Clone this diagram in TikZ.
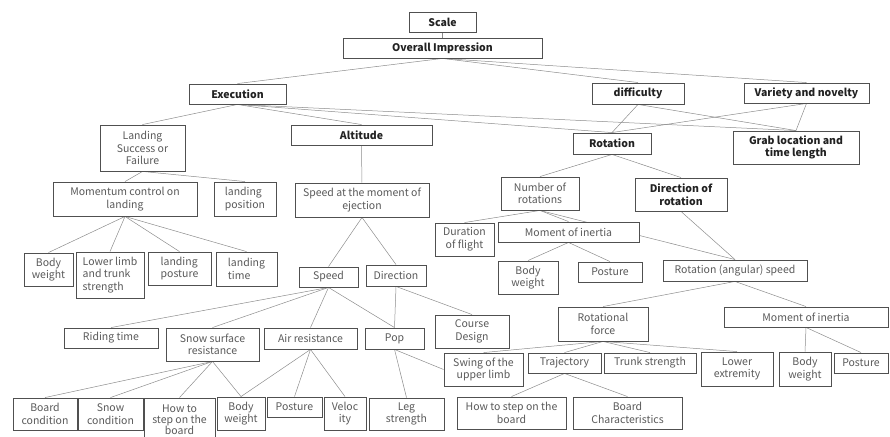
\documentclass[tikz,border=0pt]{standalone}
\usepackage{fontspec}
\setmainfont{Noto Sans CJK JP}
\usetikzlibrary{backgrounds}
\definecolor{boxline}{HTML}{505050}
\definecolor{txtgray}{HTML}{5A5A5A}
\definecolor{txtdark}{HTML}{222222}
\definecolor{edgegray}{HTML}{8C8C8C}

\begin{document}
\begin{tikzpicture}[x=1pt, y=1pt,
        box/.style={draw=boxline, line width=0.9pt, fill=white, inner sep=0pt, align=center, text=txtgray, font=\fontsize{10.5}{12.6}\selectfont},
        keybox/.style={box, text=txtdark, font=\fontsize{10.5}{12.6}\selectfont\bfseries},
        leftbox/.style={box, align=left},
        link/.style={draw=edgegray, line width=0.5pt}]
        \useasboundingbox (0,0) rectangle (890,-436);
        % top levels
        \node [keybox, minimum width=67, minimum height=20] (scale) at (442.5,-22) {Scale};
        \node [keybox, minimum width=199, minimum height=20] (overall) at (442.5,-48) {Overall Impression};
        \node [keybox, minimum width=97, minimum height=20] (execution) at (237.5,-94) {Execution};
        \node [keybox, minimum width=92, minimum height=21] (difficulty) at (638,-93.5) {difficulty};
        \node [keybox, minimum width=125, minimum height=20] (variety) at (806.5,-93) {Variety and novelty};
        \node [box, minimum width=85, minimum height=46] (landing) at (142.5,-148) {Landing\\Success or\\Failure};
        \node [keybox, minimum width=141, minimum height=20] (altitude) at (361.5,-135) {Altitude};
        \node [keybox, minimum width=78, minimum height=21] (rotation) at (612,-143.5) {Rotation};
        \node [keybox, minimum width=126, minimum height=33] (grab) at (796,-147.5) {Grab location and\\time length};
        % landing branch
        \node [box, minimum width=144, minimum height=34] (momentum) at (125,-199) {Momentum control on\\landing};
        \node [leftbox, minimum width=62, minimum height=34] (landpos) at (245,-199) {landing\\position};
        \node [box, minimum width=49, minimum height=33] (bodyL) at (48.5,-269.5) {Body\\weight};
        \node [leftbox, minimum width=68, minimum height=46] (lowerlimb) at (110,-275) {Lower limb\\and trunk\\strength};
        \node [leftbox, minimum width=63, minimum height=33] (landposture) at (179.5,-268.5) {landing\\posture};
        \node [leftbox, minimum width=61, minimum height=34] (landtime) at (246.5,-269) {landing\\time};
        % altitude branch
        \node [box, minimum width=134, minimum height=34] (ejection) at (362,-200) {Speed at the moment of\\ejection};
        \node [box, minimum width=59, minimum height=20] (speed) at (328.5,-277) {Speed};
        \node [box, minimum width=60, minimum height=21] (direction) at (396,-275.5) {Direction};
        \node [box, minimum width=94, minimum height=20] (riding) at (111,-338) {Riding time};
        \node [box, minimum width=93, minimum height=33] (snowres) at (212.5,-344.5) {Snow surface\\resistance};
        \node [box, minimum width=93, minimum height=21] (airres) at (310.5,-338.5) {Air resistance};
        \node [box, minimum width=59, minimum height=21] (pop) at (394.5,-338.5) {Pop};
        \node [box, minimum width=74, minimum height=33] (course) at (472,-331.5) {Course\\Design};
        \node [box, minimum width=64, minimum height=32] (boardcond) at (45,-414) {Board\\condition};
        \node [box, minimum width=65, minimum height=32] (snowcond) at (110.5,-414) {Snow\\condition};
        \node [box, minimum width=71, minimum height=44, font=\fontsize{10.5}{11.2}\selectfont] (stepL) at (179.5,-420) {How to\\step on the\\board};
        \node [box, minimum width=48, minimum height=33] (bodyB) at (241,-413.5) {Body\\weight};
        \node [box, minimum width=55, minimum height=20] (postureB) at (294.5,-407) {Posture};
        \node [box, minimum width=42, minimum height=33] (velocity) at (345,-413.5) {Veloc\\ity};
        \node [box, minimum width=75, minimum height=32] (leg) at (406.5,-414) {Leg\\strength};
        % rotation branch
        \node [box, minimum width=78, minimum height=33] (numrot) at (540,-193.5) {Number of\\rotations};
        \node [keybox, minimum width=92, minimum height=33] (dirrot) at (681,-194.5) {Direction of\\rotation};
        \node [box, minimum width=59, minimum height=33] (flight) at (464.5,-239.5) {Duration\\of flight};
        \node [box, minimum width=141, minimum height=20] (inertia) at (568.5,-232) {Moment of inertia};
        \node [box, minimum width=60, minimum height=33] (bodyM) at (528,-277.5) {Body\\weight};
        \node [box, minimum width=64, minimum height=20] (postureM) at (610,-272) {Posture};
        \node [box, minimum width=144, minimum height=21] (angspeed) at (735,-270.5) {Rotation (angular) speed};
        \node [box, minimum width=90, minimum height=34] (rotforce) at (603,-324) {Rotational\\force};
        \node [box, minimum width=164, minimum height=20] (inertiaR) at (806,-317) {Moment of inertia};
        \node [box, minimum width=79, minimum height=33] (swing) at (483.5,-369.5) {Swing of the\\upper limb};
        \node [box, minimum width=73, minimum height=20] (trajectory) at (564.5,-363) {Trajectory};
        \node [box, minimum width=92, minimum height=20] (trunk) at (650,-363) {Trunk strength};
        \node [box, minimum width=72, minimum height=34] (lowerext) at (737,-369) {Lower\\extremity};
        \node [box, minimum width=52, minimum height=34] (bodyR) at (805,-369) {Body\\weight};
        \node [box, minimum width=54, minimum height=20] (postureR) at (861,-363) {Posture};
        \node [box, minimum width=109, minimum height=32] (stepR) at (511.5,-413) {How to step on the\\board};
        \node [box, minimum width=109, minimum height=32] (boardchar) at (627.5,-413) {Board\\Characteristics};
        % connectors
        \begin{scope}[on background layer]
        \draw [link] (scale) -- (overall);
        \draw [link] (overall.south) -- (execution.north);
        \draw [link] (overall.south) -- (difficulty.north);
        \draw [link] (overall.south) -- (variety.north);
        \draw [link] (execution.south) -- (landing.north);
        \draw [link] (execution.south) -- (altitude.north);
        \draw [link] (execution.south) -- (rotation.north);
        \draw [link] (execution.south) -- (grab.north);
        \draw [link] (difficulty.south) -- (rotation.north);
        \draw [link] (difficulty.south) -- (grab.north);
        \draw [link] (variety.south) -- (rotation.north);
        \draw [link] (variety.south) -- (grab.north);
        \draw [link] (landing.south) -- (momentum.north);
        \draw [link] (landing.south) -- (landpos.north);
        \draw [link] (momentum.south) -- (bodyL.north);
        \draw [link] (momentum.south) -- (lowerlimb.north);
        \draw [link] (momentum.south) -- (landposture.north);
        \draw [link] (momentum.south) -- (landtime.north);
        \draw [link] (altitude) -- (ejection);
        \draw [link] (ejection.south) -- (speed.north);
        \draw [link] (ejection.south) -- (direction.north);
        \draw [link] (speed.south) -- (riding.north);
        \draw [link] (speed.south) -- (snowres.north);
        \draw [link] (speed.south) -- (airres.north);
        \draw [link] (speed.south) -- (pop.north);
        \draw [link] (direction.south) -- (pop.north);
        \draw [link] (direction.south) -- (course.north);
        \draw [link] (snowres.south) -- (boardcond.north);
        \draw [link] (snowres.south) -- (snowcond.north);
        \draw [link] (snowres.south) -- (stepL.north);
        \draw [link] (snowres.south) -- (bodyB.north);
        \draw [link] (airres.south) -- (bodyB.north);
        \draw [link] (airres.south) -- (postureB.north);
        \draw [link] (airres.south) -- (velocity.north);
        \draw [link] (pop.south) -- (leg.north);
        \draw [link] (pop.south) -- (swing.west);
        \draw [link] (rotation.south) -- (numrot.north);
        \draw [link] (rotation.south) -- (dirrot.north);
        \draw [link] (numrot.south) -- (flight.north);
        \draw [link] (numrot.south) -- (inertia.north);
        \draw [link] (numrot.south) -- (angspeed.north);
        \draw [link] (dirrot.south) -- (angspeed.north);
        \draw [link] (inertia.south) -- (bodyM.north);
        \draw [link] (inertia.south) -- (postureM.north);
        \draw [link] (angspeed.south) -- (rotforce.north);
        \draw [link] (angspeed.south) -- (inertiaR.north);
        \draw [link] (rotforce.south) -- (swing.north);
        \draw [link] (rotforce.south) -- (trajectory.north);
        \draw [link] (rotforce.south) -- (trunk.north);
        \draw [link] (rotforce.south) -- (lowerext.north);
        \draw [link] (trajectory.south) -- (stepR.north);
        \draw [link] (trajectory.south) -- (boardchar.north);
        \draw [link] (inertiaR.south) -- (bodyR.north);
        \draw [link] (inertiaR.south) -- (postureR.north);
        \end{scope}
\end{tikzpicture}
\end{document}
